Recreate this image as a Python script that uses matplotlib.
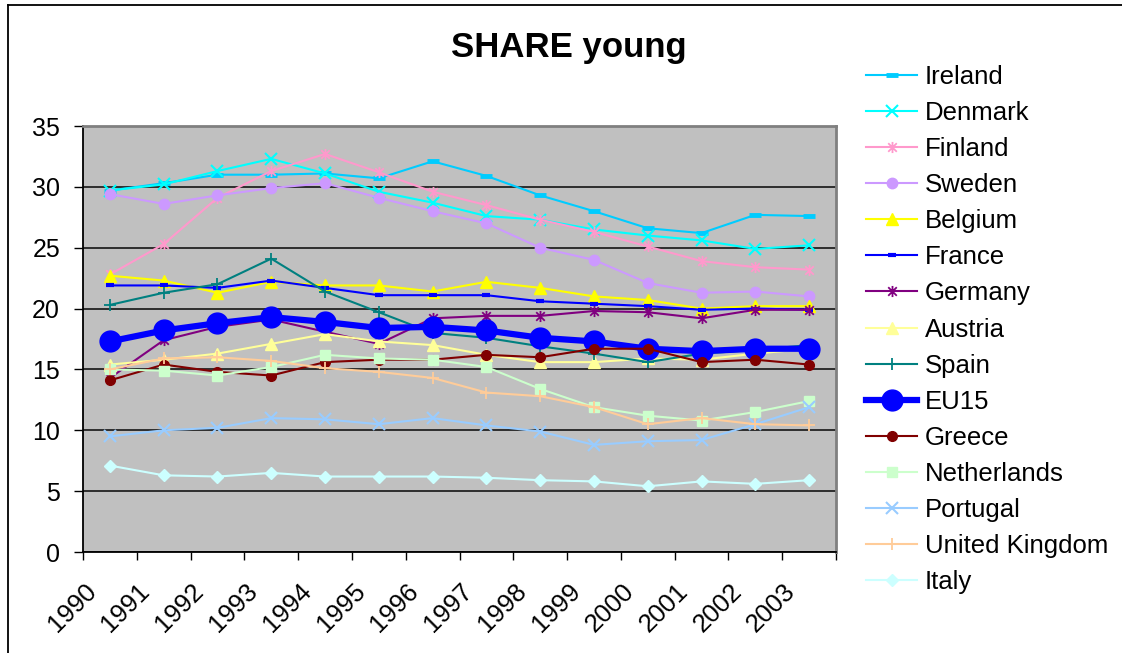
import numpy as np
import matplotlib
matplotlib.use("Agg")
import matplotlib.pyplot as plt
import matplotlib.transforms as mtransforms
from matplotlib.path import Path
from matplotlib.lines import Line2D

plt.rcParams['font.family'] = ['Liberation Sans', 'DejaVu Sans']

# data
years = ['1990', '1991', '1992', '1993', '1994', '1995', '1996',
         '1997', '1998', '1999', '2000', '2001', '2002', '2003']

ireland = [29.7, 30.3, 31.0, 31.0, 31.1, 30.7, 32.1, 30.9, 29.3, 28.0, 26.6, 26.2, 27.7, 27.6]
denmark = [29.7, 30.2, 31.3, 32.3, 31.1, 29.6, 28.7, 27.6, 27.3, 26.5, 26.0, 25.6, 24.9, 25.2]
finland = [22.8, 25.3, 29.1, 31.3, 32.7, 31.2, 29.6, 28.5, 27.3, 26.3, 25.1, 23.9, 23.4, 23.2]
sweden = [29.4, 28.6, 29.3, 29.9, 30.3, 29.1, 28.0, 27.0, 25.0, 24.0, 22.1, 21.3, 21.4, 21.0]
belgium = [22.7, 22.3, 21.3, 22.2, 21.9, 21.9, 21.4, 22.2, 21.7, 21.0, 20.7, 20.0, 20.2, 20.2]
france = [21.9, 21.9, 21.7, 22.3, 21.7, 21.1, 21.1, 21.1, 20.6, 20.4, 20.2, 19.9, 20.0, 19.9]
germany = [14.3, 17.4, 18.5, 19.1, 18.1, 17.1, 19.2, 19.4, 19.4, 19.8, 19.7, 19.2, 19.9, 19.9]
austria = [15.4, 15.8, 16.3, 17.1, 17.9, 17.3, 17.0, 16.2, 15.6, 15.6, 15.9, 15.8, 16.3, 16.7]
spain = [20.3, 21.3, 22.0, 24.1, 21.4, 19.7, 18.0, 17.6, 16.9, 16.3, 15.6, 16.3, 16.6, 17.0]
eu15 = [17.3, 18.2, 18.8, 19.3, 18.9, 18.4, 18.5, 18.2, 17.6, 17.3, 16.7, 16.5, 16.7, 16.7]
greece = [14.1, 15.4, 14.8, 14.5, 15.6, 15.8, 15.8, 16.2, 16.0, 16.7, 16.7, 15.6, 15.8, 15.4]
netherlands = [15.0, 14.9, 14.5, 15.2, 16.2, 15.9, 15.8, 15.2, 13.4, 11.9, 11.2, 10.8, 11.5, 12.4]
portugal = [9.5, 10.0, 10.2, 11.0, 10.9, 10.5, 11.0, 10.4, 9.9, 8.8, 9.1, 9.2, 10.5, 11.9]
uk = [15.0, 15.9, 16.0, 15.7, 15.1, 14.8, 14.3, 13.1, 12.8, 11.9, 10.5, 11.0, 10.5, 10.4]
italy = [7.1, 6.3, 6.2, 6.5, 6.2, 6.2, 6.2, 6.1, 5.9, 5.8, 5.4, 5.8, 5.6, 5.9]

# excel style asterisk: x with a vertical bar
star = Path([(-1, -1), (1, 1), (-1, 1), (1, -1), (0, -1.3), (0, 1.3)],
            [Path.MOVETO, Path.LINETO, Path.MOVETO, Path.LINETO, Path.MOVETO, Path.LINETO])

series = [
    ('Ireland', ireland, '#00CCFF', '_', 8, 3.5, 1.5),
    ('Denmark', denmark, '#00FFFF', 'x', 8, 1.5, 1.5),
    ('Finland', finland, '#FF99CC', star, 8, 1.3, 1.5),
    ('Sweden', sweden, '#CC99FF', 'o', 7.5, 1, 1.5),
    ('Belgium', belgium, '#FFFF00', '^', 8.5, 1, 1.5),
    ('France', france, '#0000FF', '_', 6, 3, 1.5),
    ('Germany', germany, '#800080', star, 8, 1.3, 1.5),
    ('Austria', austria, '#FFFF99', '^', 8.5, 1, 1.5),
    ('Spain', spain, '#008080', '+', 9, 1.3, 1.5),
    ('EU15', eu15, '#0000FF', 'o', 15, 1, 4.5),
    ('Greece', greece, '#800000', 'o', 7, 1, 1.5),
    ('Netherlands', netherlands, '#CCFFCC', 's', 7, 1, 1.5),
    ('Portugal', portugal, '#99CCFF', 'x', 8.5, 1.5, 1.5),
    ('United Kingdom', uk, '#FFCC99', '+', 9, 1.3, 1.5),
    ('Italy', italy, '#CCFFFF', 'D', 6.5, 1, 1.5),
]

fig = plt.figure(figsize=(11.22, 6.53), dpi=100)
ax = fig.add_axes([83 / 1122, 1 - 552 / 653, 753 / 1122, 426 / 653])
ax.set_facecolor('#C0C0C0')

x = np.arange(len(years))
for i, (name, vals, col, mk, ms, mew, lw) in enumerate(series):
    ax.plot(x, vals, color=col, marker=mk, markersize=ms, markeredgewidth=mew,
            markerfacecolor=col, markeredgecolor=col, linewidth=lw, label=name,
            zorder=3 + i)

ax.set_xlim(-0.5, len(years) - 0.5)
ax.set_ylim(0, 35)
ax.set_yticks(np.arange(0, 36, 5))
ax.yaxis.grid(True, color='#222222', linewidth=1.3)
ax.set_axisbelow(True)
ax.tick_params(axis='y', labelsize=18, length=6.5, width=1, direction='out', pad=10)

ax.set_xticks(x)
ax.set_xticklabels(years, rotation=45, ha='right', va='top', rotation_mode='anchor')
ax.set_xticks(np.arange(-0.5, len(years), 1), minor=True)
ax.tick_params(axis='x', which='major', length=0, labelsize=18.5, pad=0)
ax.tick_params(axis='x', which='minor', length=6, width=1, direction='out')
offset = mtransforms.ScaledTranslation(-26 / 100, -27 / 100, fig.dpi_scale_trans)
for lab in ax.get_xticklabels():
    lab.set_transform(lab.get_transform() + offset)

for side in ['top', 'right']:
    ax.spines[side].set_color('#808080')
    ax.spines[side].set_linewidth(2)
for side in ['left', 'bottom']:
    ax.spines[side].set_color('black')
    ax.spines[side].set_linewidth(1.3)

fig.text(569 / 1122, 1 - 47 / 653, 'SHARE young', fontsize=25, fontweight='bold',
         ha='center', va='center')

ax.legend(loc='upper left', bbox_to_anchor=(866 / 1122, 1 - 65 / 653),
          bbox_transform=fig.transFigure, frameon=False, fontsize=18.5,
          borderpad=0, borderaxespad=0, handlelength=2.0, handletextpad=0.3,
          labelspacing=0.47)

# chart area border (left and top edge)
fig.add_artist(Line2D([8 / 1122, 8 / 1122], [0, 1 - 5 / 653], color='black',
                      linewidth=1.3, transform=fig.transFigure))
fig.add_artist(Line2D([8 / 1122, 1], [1 - 5 / 653, 1 - 5 / 653], color='black',
                      linewidth=1.3, transform=fig.transFigure))

fig.savefig('out.png', dpi=100)
